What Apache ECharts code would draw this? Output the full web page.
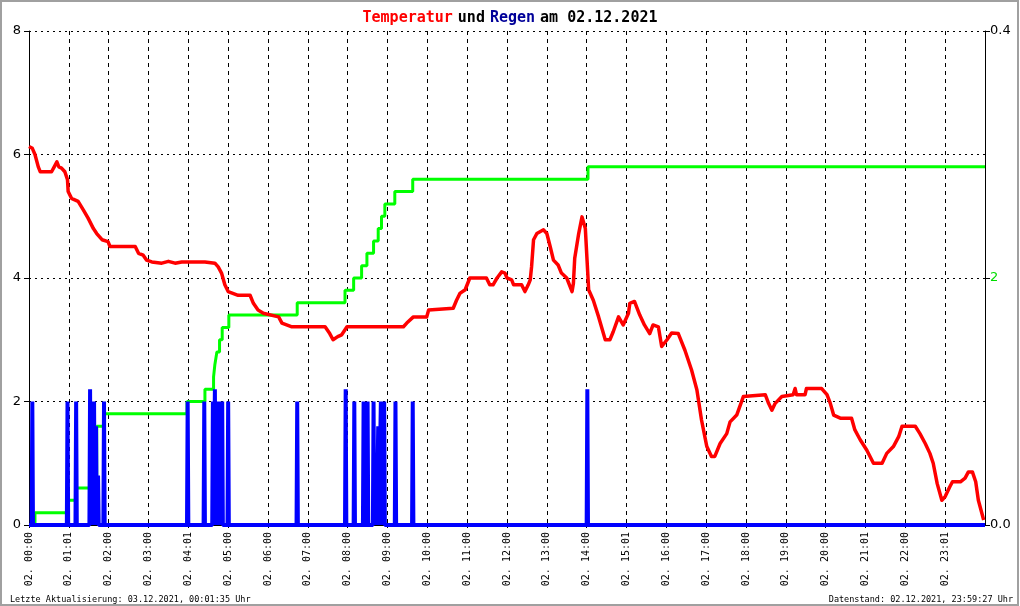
<!DOCTYPE html>
<html>
<head>
<meta charset="utf-8">
<script src="https://cdn.jsdelivr.net/npm/echarts@6/dist/echarts.min.js"></script>
<style>html,body{margin:0;padding:0;background:#fff}#c{width:1020px;height:606px}</style>
</head>
<body>
<div id="c"></div>
<script>
// ---- data (minutes after midnight) ----
const xTickLabels = ['02. 00:00','02. 01:01','02. 02:00','02. 03:00','02. 04:01','02. 05:00','02. 06:00','02. 07:00','02. 08:00','02. 09:00','02. 10:00','02. 11:00','02. 12:00','02. 13:00','02. 14:00','02. 15:01','02. 16:00','02. 17:00','02. 18:00','02. 19:00','02. 20:00','02. 21:01','02. 22:00','02. 23:01'];

const tempTimes = [0,5,9,14,17,34,38,42,45,49,54,58,59,64,74,82,89,97,102,110,119,122,160,165,172,177,185,200,210,220,230,245,265,280,285,290,295,300,315,333,338,345,353,376,381,396,446,453,458,465,471,479,564,569,579,599,602,639,644,649,657,664,689,694,699,705,712,717,720,727,730,742,747,752,755,757,760,765,775,780,785,790,797,802,810,818,820,822,828,833,838,843,850,858,868,875,880,888,895,903,905,912,920,927,935,940,948,953,961,968,978,988,998,1006,1013,1021,1028,1033,1041,1051,1056,1066,1076,1109,1114,1119,1124,1134,1151,1154,1156,1169,1171,1194,1202,1207,1212,1222,1239,1244,1252,1262,1272,1285,1292,1302,1310,1315,1335,1342,1350,1357,1362,1368,1375,1380,1387,1391,1403,1410,1415,1421,1426,1430,1438];
const tempValues = [6.13,6.10,6.0,5.80,5.72,5.72,5.80,5.88,5.80,5.78,5.72,5.59,5.40,5.29,5.24,5.10,4.97,4.80,4.72,4.62,4.59,4.51,4.51,4.40,4.37,4.29,4.26,4.24,4.27,4.24,4.26,4.26,4.26,4.24,4.18,4.08,3.89,3.78,3.72,3.72,3.59,3.48,3.43,3.37,3.27,3.21,3.21,3.10,3.0,3.05,3.08,3.21,3.21,3.27,3.37,3.37,3.48,3.51,3.64,3.75,3.81,4.0,4.0,3.89,3.89,4.0,4.10,4.08,4.0,3.97,3.89,3.89,3.78,3.89,3.97,4.18,4.62,4.72,4.78,4.72,4.51,4.29,4.21,4.08,4.0,3.78,3.91,4.32,4.72,4.99,4.80,3.81,3.64,3.37,3.0,3.0,3.13,3.37,3.24,3.43,3.59,3.62,3.40,3.24,3.10,3.24,3.21,2.89,3.0,3.11,3.10,2.83,2.51,2.19,1.70,1.27,1.11,1.11,1.32,1.48,1.67,1.78,2.08,2.11,1.97,1.86,1.97,2.08,2.11,2.21,2.11,2.11,2.21,2.21,2.11,1.97,1.78,1.73,1.73,1.54,1.38,1.21,1.0,1.0,1.16,1.27,1.43,1.60,1.60,1.48,1.32,1.16,1.0,0.67,0.40,0.46,0.62,0.70,0.70,0.76,0.86,0.86,0.70,0.40,0.08];

const rainTimes  = [5,58,71,92,95,98,101,104,113,239,264,277,280,283,287,291,300,404,477,490,504,510,519,523,526,530,535,552,578,841];
const rainValues = [0.1,0.1,0.1,0.11,0.1,0.1,0.08,0.04,0.1,0.1,0.1,0.1,0.11,0.1,0.1,0.1,0.1,0.1,0.11,0.1,0.1,0.1,0.1,0.04,0.08,0.1,0.1,0.1,0.1,0.11];

const sumTimes  = [0,9,57,71,102,113,238,265,278,280,283,287,291,301,404,476,489,501,509,519,526,531,536,551,578,842,1440];
const sumValues = [0,0.1,0.2,0.3,0.8,0.9,1.0,1.1,1.2,1.3,1.4,1.5,1.6,1.7,1.8,1.9,2.0,2.1,2.2,2.3,2.4,2.5,2.6,2.7,2.8,2.9,2.9];

// ---- build series data ----
const tempData = tempTimes.map((t, i) => [t, tempValues[i]]);
const sumData = sumTimes.map((t, i) => [t, sumValues[i]]);
const rainData = [[0, 0]];
rainTimes.forEach((t, i) => {
  rainData.push([t - 1, 0], [t, rainValues[i]], [t + 1, 0]);
});
rainData.push([1440, 0]);

const mono = 'DejaVu Sans Mono';
const chart = echarts.init(document.getElementById('c'), null, {renderer: 'canvas'});
chart.setOption({
  backgroundColor: '#fff',
  animation: false,
  title: {
    left: 'center', top: 4,
    text: '{r|Temperatur} {k|und} {b|Regen} {k|am 02.12.2021}',
    textStyle: {
      rich: {
        r: {color: '#ff0000', fontFamily: mono, fontSize: 15},
        k: {color: '#000000', fontFamily: mono, fontSize: 15},
        b: {color: '#000099', fontFamily: mono, fontSize: 15}
      }
    }
  },
  grid: {left: 29, right: 35, top: 31, bottom: 81, containLabel: false},
  xAxis: {
    type: 'value', min: 0, max: 1440, interval: 60,
    axisLine: {show: true, lineStyle: {color: '#000', width: 1}},
    axisTick: {show: true, length: 3, lineStyle: {color: '#000'}},
    axisLabel: {
      rotate: 90, margin: 7, color: '#000', fontFamily: mono, fontSize: 10,
      showMaxLabel: false,
      formatter: v => { const i = Math.round(v / 60); return i < xTickLabels.length ? xTickLabels[i] : ''; }
    },
    splitLine: {show: true, lineStyle: {color: '#000', type: [4, 4], width: 1}}
  },
  yAxis: [
    {
      type: 'value', min: 0, max: 8, interval: 2, position: 'left',
      axisLine: {show: true, lineStyle: {color: '#000', width: 1}},
      axisTick: {show: true, length: 5, lineStyle: {color: '#000'}},
      axisLabel: {color: '#000', fontFamily: 'DejaVu Sans', fontSize: 13, margin: 8},
      splitLine: {show: true, lineStyle: {color: '#000', type: [2, 4], width: 1}}
    },
    {
      type: 'value', min: 0, max: 0.4, interval: 0.4, position: 'right',
      axisLine: {show: true, lineStyle: {color: '#000', width: 1}},
      axisTick: {show: true, length: 5, lineStyle: {color: '#000'}},
      axisLabel: {color: '#000', fontFamily: 'DejaVu Sans', fontSize: 13, margin: 5, formatter: v => v.toFixed(1)},
      splitLine: {show: false}
    },
    {
      type: 'value', min: 0, max: 4, interval: 2, position: 'right',
      axisLine: {show: false},
      axisTick: {show: true, length: 5, lineStyle: {color: '#000'}},
      axisLabel: {color: '#00dd00', fontFamily: 'DejaVu Sans', fontSize: 13, margin: 5, formatter: v => (v === 2 ? '2' : '')},
      splitLine: {show: false}
    }
  ],
  series: [
    {
      name: 'Regensumme', type: 'line', yAxisIndex: 2, step: 'end', data: sumData,
      showSymbol: false, symbol: 'none', z: 2,
      lineStyle: {color: '#00ff00', width: 3}
    },
    {
      name: 'Regen', type: 'line', yAxisIndex: 1, data: rainData,
      showSymbol: false, symbol: 'none', z: 3,
      lineStyle: {color: '#0000ff', width: 4, join: 'bevel'}
    },
    {
      name: 'Temperatur', type: 'line', yAxisIndex: 0, data: tempData,
      showSymbol: false, symbol: 'none', z: 4,
      lineStyle: {color: '#ff0000', width: 3.5, join: 'round'}
    }
  ],
  graphic: [
    {type: 'rect', shape: {x: 1, y: 1, width: 1017, height: 604}, style: {fill: 'none', stroke: '#a0a0a0', lineWidth: 2}, silent: true},
    {type: 'text', left: 10, top: 595, style: {text: 'Letzte Aktualisierung: 03.12.2021, 00:01:35 Uhr', fill: '#000', font: '8.5px "DejaVu Sans Mono"'}},
    {type: 'text', right: 7, top: 595, style: {text: 'Datenstand: 02.12.2021, 23:59:27 Uhr', fill: '#000', font: '8.5px "DejaVu Sans Mono"'}}
  ]
});
</script>
</body>
</html>
